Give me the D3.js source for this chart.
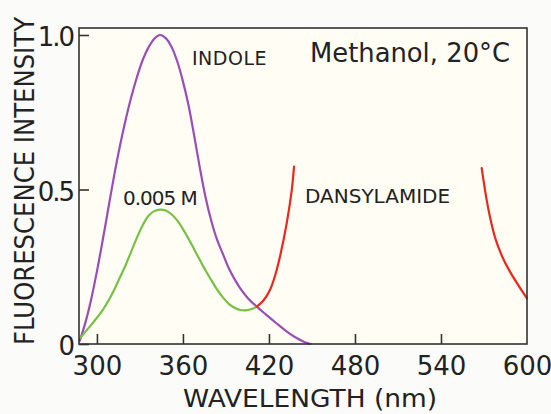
<!DOCTYPE html>
<html>
<head>
<meta charset="utf-8">
<script src="https://cdn.jsdelivr.net/npm/d3@7"></script>
<style>
  html, body { margin: 0; padding: 0; background: #fbfbfa; }
  svg { display: block; }
  text { font-family: "DejaVu Sans", sans-serif; fill: #222; }
</style>
</head>
<body>
<svg id="chart" width="551" height="414"></svg>
<script>
// ---- data ----
const xTicks = [300, 360, 420, 480, 540, 600];
const xTickLabels = ["300", "360", "420", "480", "540", "600"];
const yTicks = [0, 0.5, 1.0];
const yTickLabels = ["0", "0.5", "1.0"];

const indoleWavelength = [288, 292, 296, 300, 304, 308, 312, 316, 320, 324, 328, 332, 336, 340, 344, 348, 352, 356, 360, 364, 368, 372, 376, 380, 384, 388, 392, 396, 400, 405, 411.5, 418, 425, 432, 439, 445, 449];
const indoleIntensity  = [0.01, 0.07, 0.145, 0.235, 0.335, 0.44, 0.545, 0.64, 0.725, 0.80, 0.865, 0.92, 0.96, 0.988, 1.0, 0.99, 0.962, 0.915, 0.85, 0.77, 0.67, 0.565, 0.47, 0.395, 0.335, 0.29, 0.245, 0.21, 0.18, 0.15, 0.121, 0.095, 0.068, 0.042, 0.02, 0.006, 0.0];

const mixWavelength = [288.5, 292, 296, 300, 304, 308, 312, 316, 320, 324, 328, 332, 336, 340, 344, 348, 352, 356, 360, 364, 368, 372, 376, 380, 384, 388, 392, 396, 400, 404, 408, 411.5];
const mixIntensity  = [0.02, 0.04, 0.062, 0.085, 0.11, 0.14, 0.175, 0.215, 0.255, 0.30, 0.345, 0.385, 0.415, 0.43, 0.435, 0.432, 0.42, 0.40, 0.372, 0.34, 0.305, 0.27, 0.236, 0.205, 0.175, 0.15, 0.13, 0.117, 0.11, 0.109, 0.113, 0.121];

const dansylLeftWavelength = [411.5, 416, 420.7, 424.5, 427.7, 432.4, 435.9, 437.5];
const dansylLeftIntensity  = [0.121, 0.14, 0.175, 0.225, 0.283, 0.391, 0.498, 0.574];

const dansylRightWavelength = [568.4, 571, 574, 578, 583, 588, 594, 600];
const dansylRightIntensity  = [0.569, 0.49, 0.415, 0.34, 0.28, 0.235, 0.19, 0.148];

// ---- layout ----
const svg = d3.select("#chart");
const mLeft = 79, mRight = 527, mTop = 35, mBottom = 344, frameTop = 28;

const x = d3.scaleLinear().domain([287.5, 600]).range([mLeft, mRight]);
const y = d3.scaleLinear().domain([0, 1]).range([mBottom, mTop]);

// plot background
svg.append("rect")
  .attr("x", mLeft).attr("y", frameTop)
  .attr("width", mRight - mLeft).attr("height", mBottom - frameTop)
  .attr("fill", "#fffdf4");

// curves
const line = d3.line()
  .x(d => x(d[0])).y(d => y(d[1]))
  .curve(d3.curveCatmullRom.alpha(0.5));

function draw(ws, vs, color) {
  svg.append("path")
    .datum(ws.map((w, i) => [w, vs[i]]))
    .attr("fill", "none")
    .attr("stroke", color)
    .attr("stroke-width", 2.2)
    .attr("stroke-linecap", "round")
    .attr("d", line);
}
draw(indoleWavelength, indoleIntensity, "#9b4db6");
draw(mixWavelength, mixIntensity, "#76c043");
draw(dansylLeftWavelength, dansylLeftIntensity, "#e8291c");
draw(dansylRightWavelength, dansylRightIntensity, "#e8291c");

// frame
svg.append("rect")
  .attr("x", mLeft).attr("y", frameTop)
  .attr("width", mRight - mLeft).attr("height", mBottom - frameTop)
  .attr("fill", "none").attr("stroke", "#333").attr("stroke-width", 1.6);

// x axis
const xAxis = d3.axisBottom(x)
  .tickValues(xTicks)
  .tickFormat((d, i) => xTickLabels[i])
  .tickSizeInner(-10).tickSizeOuter(0).tickPadding(13);
const gx = svg.append("g").attr("transform", `translate(0,${mBottom})`).call(xAxis);
gx.select(".domain").remove();
gx.selectAll(".tick line").attr("stroke", "#333").attr("stroke-width", 1.6)
  .filter(d => d === 600).remove();
gx.selectAll(".tick text").attr("font-size", 26).attr("font-family", "DejaVu Sans").attr("fill", "#222");

// y axis
const yAxis = d3.axisLeft(y)
  .tickValues(yTicks)
  .tickFormat((d, i) => yTickLabels[i])
  .tickSizeInner(-10).tickSizeOuter(0).tickPadding(6);
const gy = svg.append("g").attr("transform", `translate(${mLeft},0)`).call(yAxis);
gy.select(".domain").remove();
gy.selectAll(".tick line").attr("stroke", "#333").attr("stroke-width", 1.6);
gy.selectAll(".tick text").attr("font-size", 26).attr("font-family", "DejaVu Sans")
  .attr("fill", "#222").attr("dy", "0.42em").attr("letter-spacing", -2);

// axis titles
svg.append("text")
  .attr("x", 183).attr("y", 407)
  .attr("font-size", 25)
  .attr("textLength", 254).attr("lengthAdjust", "spacingAndGlyphs")
  .text("WAVELENGTH (nm)");

svg.append("text")
  .attr("transform", "translate(34,181) rotate(-90)")
  .attr("text-anchor", "middle")
  .attr("font-size", 26)
  .attr("textLength", 328).attr("lengthAdjust", "spacingAndGlyphs")
  .text("FLUORESCENCE INTENSITY");

// annotations
svg.append("text").attr("x", 192).attr("y", 65).attr("font-size", 19)
  .attr("letter-spacing", 0.5).text("INDOLE");
svg.append("text").attr("x", 310).attr("y", 62).attr("font-size", 26)
  .attr("textLength", 200).attr("lengthAdjust", "spacingAndGlyphs").text("Methanol, 20°C");
svg.append("text").attr("x", 123).attr("y", 205).attr("font-size", 20)
  .attr("letter-spacing", -1).text("0.005 M");
svg.append("text").attr("x", 305).attr("y", 203).attr("font-size", 20)
  .text("DANSYLAMIDE");
</script>
</body>
</html>
